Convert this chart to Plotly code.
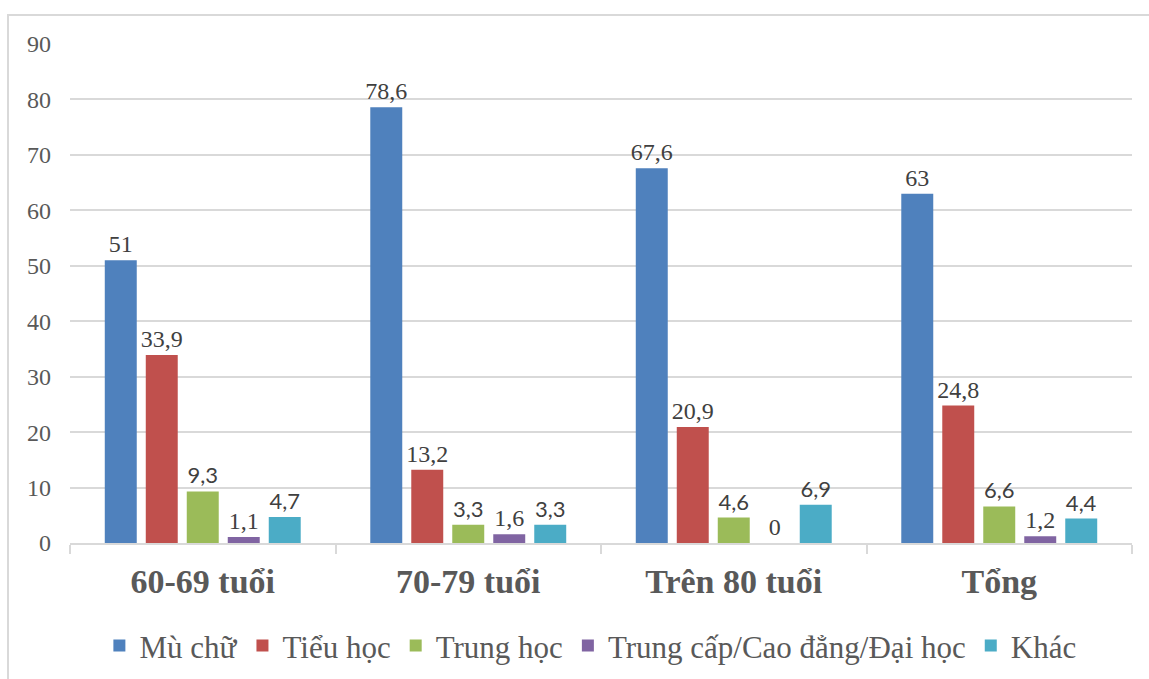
import plotly.graph_objects as go

# Age groups and education level shares (%)
categories = ["60-69 tuổi", "70-79 tuổi", "Trên 80 tuổi", "Tổng"]
series_names = ["Mù chữ", "Tiểu học", "Trung học", "Trung cấp/Cao đẳng/Đại học", "Khác"]
mu_chu = [51, 78.6, 67.6, 63]
tieu_hoc = [33.9, 13.2, 20.9, 24.8]
trung_hoc = [9.3, 3.3, 4.6, 6.6]
trung_cap = [1.1, 1.6, 0, 1.2]
khac = [4.7, 3.3, 6.9, 4.4]
y_ticks = [0, 10, 20, 30, 40, 50, 60, 70, 80, 90]

SERIF = "Liberation Serif, Times New Roman, serif"
SANS = "Lato, Liberation Sans, sans-serif"

values = [mu_chu, tieu_hoc, trung_hoc, trung_cap, khac]
colors = ["#4F81BD", "#C0504D", "#9BBB59", "#8064A2", "#4BACC6"]
label_fonts = [SERIF, SERIF, SANS, SERIF, SANS]
label_sizes = [24, 24, 22, 24, 22]

def fmt(v):
    return f"{v:g}".replace(".", ",")

fig = go.Figure()
for name, vals, col, fam, sz in zip(series_names, values, colors, label_fonts, label_sizes):
    fig.add_trace(go.Bar(
        name=name,
        x=categories,
        y=vals,
        marker=dict(color=col, line=dict(width=0)),
        text=[fmt(v) for v in vals],
        textposition="outside",
        constraintext="none",
        textfont=dict(family=fam, size=sz, color="#404040"),
        cliponaxis=False,
    ))

grid = "#d9d9d9"
fig.update_layout(
    width=1149,
    height=679,
    margin=dict(l=70, r=17, t=44, b=136, autoexpand=False),
    paper_bgcolor="white",
    plot_bgcolor="white",
    barmode="group",
    bargap=0.228,
    bargroupgap=0.22,
    font=dict(family=SERIF, color="#595959"),
    showlegend=True,
    legend=dict(
        orientation="h",
        x=0.49,
        xanchor="center",
        y=-0.152,
        yanchor="top",
        font=dict(family=SERIF, size=31, color="#595959"),
        itemwidth=30,
        tracegroupgap=0,
    ),
    xaxis=dict(
        automargin=False,
        tickson="boundaries",
        ticks="outside",
        ticklen=9,
        tickwidth=2,
        tickcolor=grid,
        showline=True,
        linecolor=grid,
        linewidth=2,
        showgrid=False,
        tickfont=dict(family=SERIF, size=34, color="#595959", weight="bold"),
        ticklabelstandoff=7,
    ),
    yaxis=dict(
        automargin=False,
        range=[0, 90],
        tickvals=y_ticks,
        ticktext=[str(t) for t in y_ticks],
        showgrid=True,
        gridcolor=grid,
        gridwidth=2,
        zeroline=False,
        showline=False,
        ticks="",
        tickfont=dict(family=SERIF, size=24, color="#595959"),
        ticklabelstandoff=18,
    ),
    shapes=[dict(
        type="rect", xref="paper", yref="paper",
        x0=(8 - 70) / 1062, x1=1.05,
        y0=-0.4, y1=1 + (44 - 15) / 499,
        line=dict(color=grid, width=2),
        fillcolor="rgba(0,0,0,0)",
        layer="below",
    )],
)

fig.write_html("out.html")
